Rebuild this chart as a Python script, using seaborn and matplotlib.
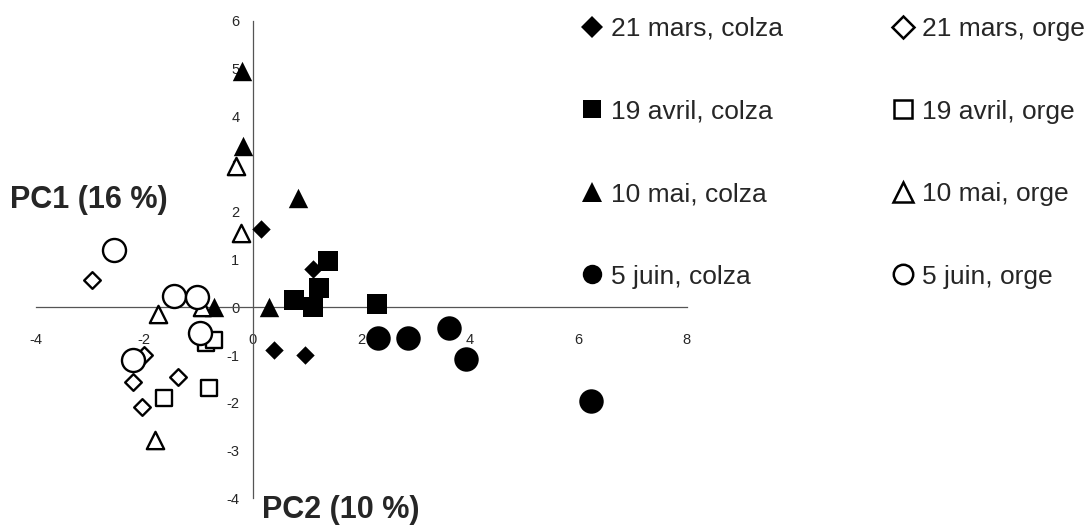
import matplotlib.pyplot as plt
import pandas as pd
import seaborn as sns
from matplotlib.lines import Line2D

# PCA scores (x = horizontal axis, y = vertical axis)
groups = [
    "21 mars, colza", "19 avril, colza", "10 mai, colza", "5 juin, colza",
    "21 mars, orge", "19 avril, orge", "10 mai, orge", "5 juin, orge",
]

x_mars_colza = [0.15, 1.12, 0.39, 0.96]
y_mars_colza = [1.64, 0.80, -0.88, -1.00]
x_avril_colza = [1.38, 1.22, 0.76, 1.12, 2.29]
y_avril_colza = [0.97, 0.40, 0.15, 0.00, 0.08]
x_mai_colza = [-0.20, -0.18, 0.83, 0.30, -0.72]
y_mai_colza = [4.95, 3.38, 2.30, 0.00, 0.00]
x_juin_colza = [2.31, 2.86, 3.62, 3.93, 6.24]
y_juin_colza = [-0.63, -0.63, -0.42, -1.07, -1.95]

x_mars_orge = [-2.97, -2.01, -2.20, -2.05, -1.38]
y_mars_orge = [0.57, -1.00, -1.57, -2.08, -1.45]
x_avril_orge = [-1.64, -0.81, -0.87, -0.72]
y_avril_orge = [-1.89, -1.68, -0.75, -0.69]
x_mai_orge = [-0.31, -0.22, -1.75, -0.93, -1.80]
y_mai_orge = [2.96, 1.56, -0.14, 0.00, -2.78]
x_juin_orge = [-2.56, -1.46, -1.02, -0.98, -2.20]
y_juin_orge = [1.20, 0.25, 0.22, -0.54, -1.11]

xs = [x_mars_colza, x_avril_colza, x_mai_colza, x_juin_colza,
      x_mars_orge, x_avril_orge, x_mai_orge, x_juin_orge]
ys = [y_mars_colza, y_avril_colza, y_mai_colza, y_juin_colza,
      y_mars_orge, y_avril_orge, y_mai_orge, y_juin_orge]

x_ticks = [-4, -2, 0, 2, 4, 6, 8]
y_ticks = [-4, -3, -2, -1, 0, 1, 2, 3, 4, 5, 6]

rows = []
for g, xv, yv in zip(groups, xs, ys):
    for a, b in zip(xv, yv):
        rows.append({"group": g, "x": a, "y": b})
data = pd.DataFrame(rows)

# marker, scatter size, filled?
style = {
    "21 mars, colza": ("D", 88, True),
    "19 avril, colza": ("s", 190, True),
    "10 mai, colza": ("^", 195, True),
    "5 juin, colza": ("o", 310, True),
    "21 mars, orge": ("D", 72, False),
    "19 avril, orge": ("s", 140, False),
    "10 mai, orge": ("^", 155, False),
    "5 juin, orge": ("o", 275, False),
}

sns.set_style("white")
plt.rcParams["font.family"] = ["Liberation Sans", "DejaVu Sans"]
plt.rcParams["axes.unicode_minus"] = False

fig = plt.figure(figsize=(10.9, 5.27), dpi=100)
ax = fig.add_axes([0.0328, 0.0541, 0.5972, 0.9061])
ax.patch.set_visible(False)

for g in groups:
    marker, size, filled = style[g]
    sub = data[data["group"] == g]
    sns.scatterplot(
        data=sub, x="x", y="y", ax=ax,
        marker=marker, s=size,
        color="black" if filled else "white",
        edgecolor="black",
        linewidth=0 if filled else 1.7,
        legend=False, zorder=3,
    )

ax.set_xlim(-4, 8)
ax.set_ylim(-4, 6)
ax.set_xticks(x_ticks)
ax.set_yticks(y_ticks)
ax.set_xlabel("")
ax.set_ylabel("")

for side in ["top", "right"]:
    ax.spines[side].set_visible(False)
for side in ["left", "bottom"]:
    ax.spines[side].set_position(("data", 0))
    ax.spines[side].set_color("#555555")
    ax.spines[side].set_linewidth(0.9)

ax.tick_params(axis="x", direction="out", length=3.6, width=0.9, color="#555555",
               pad=15, labelsize=10.5)
ax.tick_params(axis="y", direction="out", length=3.6, width=0.9, color="#555555",
               pad=6, labelsize=10.5)

fig.text(10 / 1090, 1 - 200 / 527, "PC1 (16 %)", fontsize=22, fontweight="bold",
         ha="left", va="center")
fig.text(262 / 1090, 1 - 510 / 527, "PC2 (10 %)", fontsize=22, fontweight="bold",
         ha="left", va="center")

handles = []
for g in groups:
    marker, size, filled = style[g]
    ms = {"D": 11.5, "s": 13, "^": 14, "o": 14}[marker]
    handles.append(Line2D([], [], linestyle="none", marker=marker, markersize=ms,
                          markerfacecolor="black" if filled else "white",
                          markeredgecolor="black",
                          markeredgewidth=0 if filled else 1.8))

leg = fig.legend(
    handles, groups, ncol=2, loc="upper left",
    bbox_to_anchor=(573.5 / 1090, 1 - 9 / 527), bbox_transform=fig.transFigure,
    fontsize=19, frameon=True, facecolor="white", edgecolor="none",
    fancybox=False, framealpha=1, borderpad=0.3, labelspacing=2.22,
    handlelength=0.8, handletextpad=0.32, columnspacing=4.16, borderaxespad=0,
)

fig.savefig("out.png", dpi=100)
